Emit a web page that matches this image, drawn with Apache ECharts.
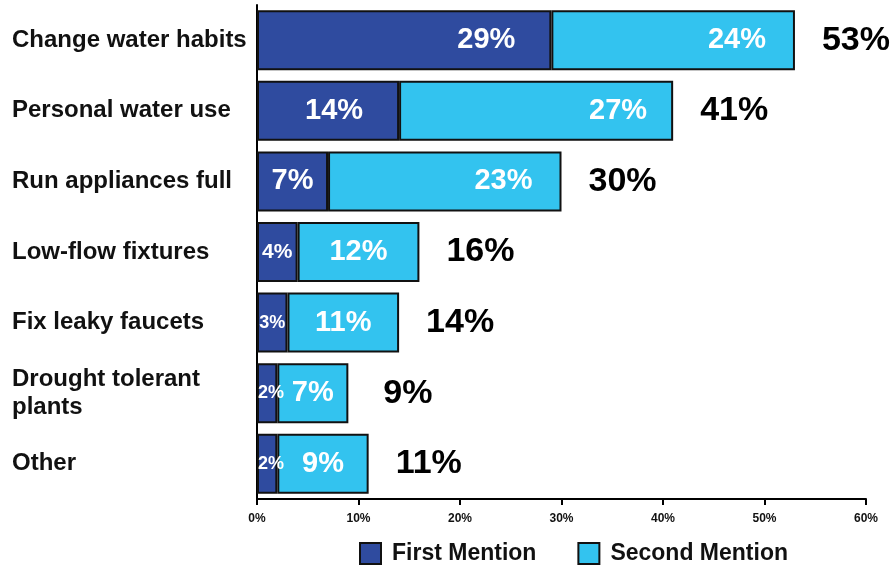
<!DOCTYPE html>
<html>
<head>
<meta charset="utf-8">
<title>Water saving actions</title>
<script src="https://cdn.jsdelivr.net/npm/echarts@6/dist/echarts.min.js"></script>
<style>
  html, body { margin: 0; padding: 0; background: #ffffff; }
  #chart { width: 894px; height: 569px; }
</style>
</head>
<body>
<div id="chart"></div>
<script>
// Water-saving actions, share of respondents (%)
const categories = [
  'Change water habits',
  'Personal water use',
  'Run appliances full',
  'Low-flow fixtures',
  'Fix leaky faucets',
  'Drought tolerant\nplants',
  'Other'
];
const firstMention  = [29, 14, 7, 4, 3, 2, 2];
const secondMention = [24, 27, 23, 12, 11, 7, 9];
const totals        = [53, 41, 30, 16, 14, 9, 11];
const xTicks = [0, 10, 20, 30, 40, 50, 60];

const FONT = '"Liberation Sans", Arial, Helvetica, sans-serif';
const DARK = '#2f4b9f';
const LIGHT = '#33c3ef';

// per-bar label placement: wide segments sit near their right end, narrow ones are centred
function segment(values, wideFrom, wideDist) {
  return values.map(function (v) {
    if (v >= wideFrom) {
      return { value: v, label: { position: 'insideRight', distance: wideDist[v] || 30 } };
    }
    if (v <= 2) {
      return { value: v, label: { position: 'insideLeft', distance: 1, fontSize: 18 } };
    }
    const size = v === 3 ? 18 : (v === 4 ? 21 : 29);
    return { value: v, label: { position: 'inside', fontSize: size } };
  });
}

const firstData = segment(firstMention, 14, { 29: 36, 14: 36 });
const secondData = segment(secondMention, 23, { 24: 29, 27: 26, 23: 29 });
const totalData = totals.map(function (v) {
  return { value: v, label: { distance: v === 9 ? 35 : 27 } };
});

const chart = echarts.init(document.getElementById('chart'), null, { renderer: 'canvas' });

chart.setOption({
  animation: false,
  backgroundColor: '#ffffff',
  textStyle: { fontFamily: FONT },
  grid: { left: 257, right: 28, top: 5, bottom: 70, containLabel: false },
  xAxis: {
    type: 'value',
    min: xTicks[0],
    max: xTicks[xTicks.length - 1],
    interval: xTicks[1] - xTicks[0],
    splitLine: { show: false },
    axisLine: { show: true, lineStyle: { color: '#000', width: 2 } },
    axisTick: { show: true, length: 6, lineStyle: { color: '#000', width: 2 } },
    axisLabel: {
      formatter: '{value}%',
      fontFamily: FONT,
      fontSize: 12,
      fontWeight: 'bold',
      color: '#111',
      margin: 14
    }
  },
  yAxis: {
    type: 'category',
    data: categories,
    inverse: true,
    axisLine: { show: true, onZero: false, lineStyle: { color: '#000', width: 2 } },
    axisTick: { show: false },
    axisLabel: {
      align: 'left',
      margin: 245,
      fontFamily: FONT,
      fontSize: 24,
      fontWeight: 'bold',
      color: '#111',
      lineHeight: 28
    }
  },
  legend: {
    data: ['First Mention', 'Second Mention'],
    left: 354,
    top: 537,
    itemWidth: 21,
    itemHeight: 21,
    itemGap: 41,
    icon: 'rect',
    textStyle: {
      fontFamily: FONT,
      fontSize: 23,
      fontWeight: 'bold',
      color: '#111',
      padding: [0, 0, 0, 6]
    }
  },
  series: [
    {
      name: 'First Mention',
      type: 'bar',
      stack: 'mentions',
      barWidth: 60,
      data: firstData,
      itemStyle: { color: DARK, borderColor: '#111', borderWidth: 2 },
      label: {
        show: true,
        formatter: '{c}%',
        color: '#fff',
        fontFamily: FONT,
        fontSize: 29,
        fontWeight: 'bold'
      },
      z: 3
    },
    {
      name: 'Second Mention',
      type: 'bar',
      stack: 'mentions',
      barWidth: 60,
      data: secondData,
      itemStyle: { color: LIGHT, borderColor: '#111', borderWidth: 2 },
      label: {
        show: true,
        formatter: '{c}%',
        color: '#fff',
        fontFamily: FONT,
        fontSize: 29,
        fontWeight: 'bold'
      },
      z: 3
    },
    {
      name: 'Total',
      type: 'bar',
      barWidth: 60,
      barGap: '-100%',
      silent: true,
      data: totalData,
      itemStyle: { color: 'rgba(0,0,0,0)', borderWidth: 0 },
      label: {
        show: true,
        position: 'right',
        formatter: '{c}%',
        color: '#000',
        fontFamily: FONT,
        fontSize: 34,
        fontWeight: 'bold'
      },
      z: 1
    }
  ]
});
</script>
</body>
</html>
